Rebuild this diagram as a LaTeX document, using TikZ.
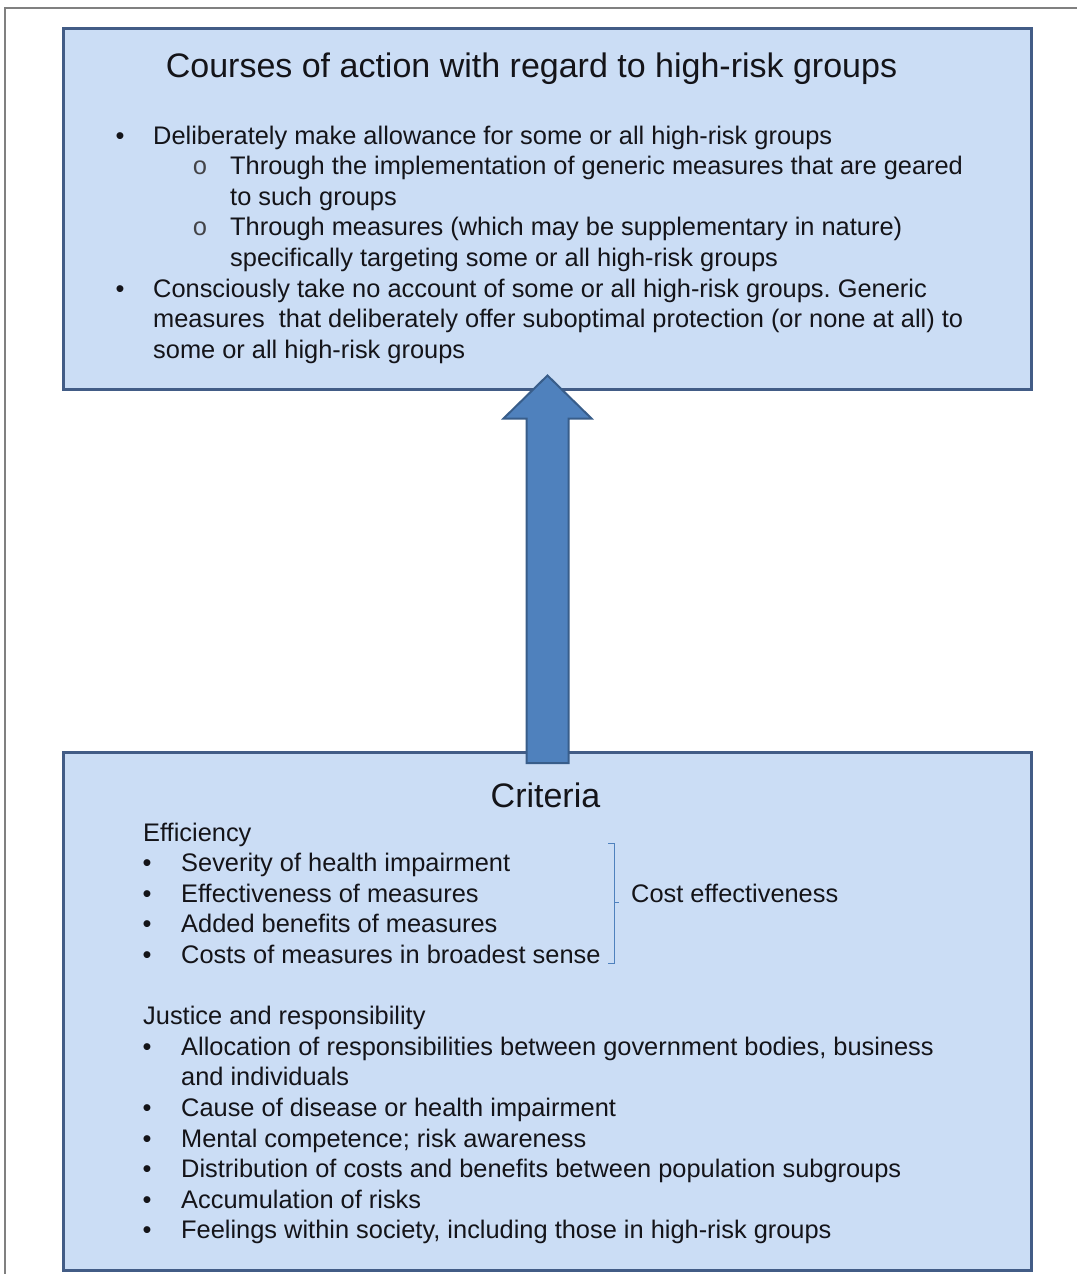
\documentclass[tikz,border=0pt]{standalone}
\usepackage{fontspec}
\setmainfont{Liberation Sans}
\newfontfamily\monofont{Liberation Mono}
\usetikzlibrary{calc}
\frenchspacing
\definecolor{boxfill}{RGB}{203,221,245}
\definecolor{boxline}{RGB}{66,92,134}
\definecolor{arrowfill}{RGB}{79,129,189}
\definecolor{arrowline}{RGB}{56,93,138}
\definecolor{textcol}{RGB}{20,20,25}
\definecolor{framecol}{RGB}{128,128,128}
\begin{document}
\begin{tikzpicture}[x=1pt,y=-1pt,
  box/.style={draw=boxline,fill=boxfill,line width=3pt,inner sep=0pt,outer sep=0pt,
    minimum width=968pt,anchor=north west},
  bigarrow/.style={draw=arrowline,fill=arrowfill,line width=2pt,line join=miter},
  body/.style={anchor=base west,inner sep=0pt,text=textcol,
    font=\fontsize{25.4}{30.6}\selectfont},
  bul/.style={anchor=base,inner sep=0pt,text=textcol,
    font=\fontsize{25.4}{30.6}\selectfont},
  subbul/.style={anchor=base,inner sep=0pt,text=textcol!80,
    font=\monofont\fontsize{25.4}{30.6}\selectfont},
  heading/.style={anchor=base,inner sep=0pt,text=textcol,
    font=\fontsize{34}{40}\selectfont},
  brace/.style={draw=arrowfill,line width=1pt}]
\useasboundingbox (0,0) rectangle (1077,1274);
\fill[white] (0,0) rectangle (1077,1274);

% outer frame
\draw[framecol,line width=1.5pt] (5,1274) -- (5,8) -- (1077,8);

% the two boxes
\node[box,minimum height=361pt] (top) at (63.5,28.5) {};
\node[box,minimum height=518pt] (bot) at (63.5,752) {};

% block arrow from the criteria up to the courses of action
\draw[bigarrow]
  ($(bot.north)+(-21,11)$) -- ($(top.south)+(-21,29)$) -- ($(top.south)+(-44,29)$)
  -- ($(top.south)+(0,-14)$) -- ($(top.south)+(44,29)$) -- ($(top.south)+(21,29)$)
  -- ($(bot.north)+(21,11)$) -- cycle;

% upper box text
\node[heading] (title) at (531.5,77) {Courses of action with regard to high-risk groups};
\node[bul] (b1) at (120,144) {•};
\node[body] (l1) at (153,144) {Deliberately make allowance for some or all high-risk groups};
\node[subbul] (s1) at (200,174.6) {o};
\node[body] (l2) at (230,174.6) {Through the implementation of generic measures that are geared};
\node[body] (l3) at (230,205.2) {to such groups};
\node[subbul] (s2) at (200,235.8) {o};
\node[body] (l4) at (230,235.8) {Through measures (which may be supplementary in nature)};
\node[body] (l5) at (230,266.4) {specifically targeting some or all high-risk groups};
\node[bul] (b2) at (120,297) {•};
\node[body] (l6) at (153,297) {Consciously take no account of some or all high-risk groups. Generic};
\node[body] (l7) at (153,327.6) {measures\ \ that deliberately offer suboptimal protection (or none at all) to};
\node[body] (l8) at (153,358.2) {some or all high-risk groups};

% lower box text
\node[heading] (crit) at (545.5,807) {Criteria};
\node[body] (eff) at (143,841) {Efficiency};
\node[bul] (e1b) at (147,871.6) {•};
\node[body] (e1) at (181,871.6) {Severity of health impairment};
\node[bul] (e2b) at (147,902.2) {•};
\node[body] (e2) at (181,902.2) {Effectiveness of measures};
\node[bul] (e3b) at (147,932.8) {•};
\node[body] (e3) at (181,932.8) {Added benefits of measures};
\node[bul] (e4b) at (147,963.4) {•};
\node[body] (e4) at (181,963.4) {Costs of measures in broadest sense};
\node[body] (cost) at (631,902.2) {Cost effectiveness};

% bracket grouping the efficiency items
\draw[brace] (608,843) -- (614,843) -- (614,963) -- (608,963);
\draw[brace] (614,902) -- (618.5,902);

\node[body] (jus) at (143,1024.6) {Justice and responsibility};
\node[bul] (j1b) at (147,1055.2) {•};
\node[body] (j1) at (181,1055.2) {Allocation of responsibilities between government bodies, business};
\node[body] (j1c) at (181,1085.8) {and individuals};
\node[bul] (j2b) at (147,1116.4) {•};
\node[body] (j2) at (181,1116.4) {Cause of disease or health impairment};
\node[bul] (j3b) at (147,1147) {•};
\node[body] (j3) at (181,1147) {Mental competence; risk awareness};
\node[bul] (j4b) at (147,1177.6) {•};
\node[body] (j4) at (181,1177.6) {Distribution of costs and benefits between population subgroups};
\node[bul] (j5b) at (147,1208.2) {•};
\node[body] (j5) at (181,1208.2) {Accumulation of risks};
\node[bul] (j6b) at (147,1238.8) {•};
\node[body] (j6) at (181,1238.8) {Feelings within society, including those in high-risk groups};
\end{tikzpicture}
\end{document}
